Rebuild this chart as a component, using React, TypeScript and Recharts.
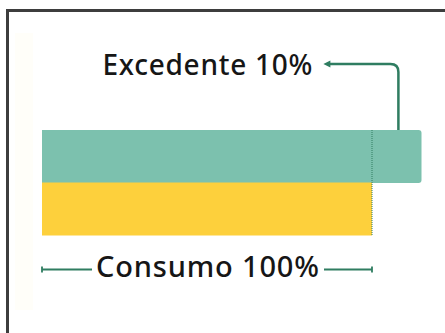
import { Bar, BarChart, Cell, ReferenceLine, XAxis, YAxis } from 'recharts';

const rows = ['Excedente', 'Consumo'];
const values = [115, 100];
const colors = ['#7cc1ae', '#fdd03c'];
const excessLabel = 'Excedente 10%';
const consumoLabel = 'Consumo 100%';
const consumoMark = 100;
const arrowAt = 108;

const data = rows.map((name, i) => ({ name, value: values[i] }));

const GREEN = '#2f7d61';
const FONT = '"Noto Sans", "DejaVu Sans", sans-serif';

function BarShape(props: any) {
  const { x, y, width, height, fill, index } = props;
  if (index !== 0) return <rect x={x} y={y} width={width} height={height} fill={fill} />;
  const r = 3;
  const d = `M${x},${y} H${x + width - r} Q${x + width},${y} ${x + width},${y + r} V${y + height - r} Q${x + width},${y + height} ${x + width - r},${y + height} H${x} Z`;
  return <path d={d} fill={fill} />;
}

function Annotations(props: any) {
  const { x, y, width, height, index, value } = props;
  if (index === 0) {
    const vx = x + (width * arrowAt) / value;
    const hy = 64;
    const tip = vx - 75;
    const rr = 8;
    return (
      <g>
        <path
          d={`M${vx},${y} V${hy + rr} Q${vx},${hy} ${vx - rr},${hy} H${tip + 6}`}
          fill="none"
          stroke={GREEN}
          strokeWidth={2.5}
        />
        <path d={`M${tip},${hy} L${tip + 7},${hy - 3.5} L${tip + 7},${hy + 3.5} Z`} fill={GREEN} />
        <text
          x={tip - 221}
          y={75}
          textLength={210}
          lengthAdjust="spacing"
          fontFamily={FONT}
          fontSize={28}
          fontWeight={500}
          fill="#161616"
        >
          {excessLabel}
        </text>
      </g>
    );
  }
  const ly = y + height + 34;
  const cx = x + width / 2;
  return (
    <g>
      <line x1={x} x2={x + width} y1={ly} y2={ly} stroke={GREEN} strokeWidth={1.8} />
      <line x1={x} x2={x} y1={ly - 3} y2={ly + 3} stroke={GREEN} strokeWidth={1.8} />
      <line x1={x + width} x2={x + width} y1={ly - 3} y2={ly + 3} stroke={GREEN} strokeWidth={1.8} />
      <rect x={cx - 115} y={ly - 14} width={232} height={28} fill="#ffffff" />
      <text
        x={cx - 111}
        y={277}
        textLength={223}
        lengthAdjust="spacing"
        fontFamily={FONT}
        fontSize={29}
        fontWeight={500}
        fill="#161616"
      >
        {consumoLabel}
      </text>
    </g>
  );
}

export default function App() {
  return (
    <div style={{ position: 'absolute', left: 0, top: 0, width: 445, height: 333, background: '#fff', overflow: 'hidden' }}>
      <div
        style={{
          position: 'absolute',
          left: 6,
          top: 9,
          width: 445,
          height: 333,
          borderLeft: '3px solid #3d3d3d',
          borderTop: '3px solid #3d3d3d',
        }}
      />
      <div style={{ position: 'absolute', left: 15, top: 33, width: 18, height: 277, background: '#fffef9' }} />
      <div style={{ position: 'absolute', left: 0, top: 0 }}>
        <BarChart
          width={445}
          height={333}
          data={data}
          layout="vertical"
          margin={{ top: 130, right: 7, bottom: 98, left: 42 }}
          barCategoryGap={0}
          barGap={0}
        >
          <XAxis type="number" domain={[0, 120]} hide />
          <YAxis type="category" dataKey="name" hide />
          <Bar dataKey="value" isAnimationActive={false} shape={BarShape} label={Annotations}>
            {data.map((d, i) => (
              <Cell key={d.name} fill={colors[i]} />
            ))}
          </Bar>
          <ReferenceLine x={consumoMark} stroke={GREEN} strokeWidth={1} strokeDasharray="1 1" />
        </BarChart>
      </div>
    </div>
  );
}
